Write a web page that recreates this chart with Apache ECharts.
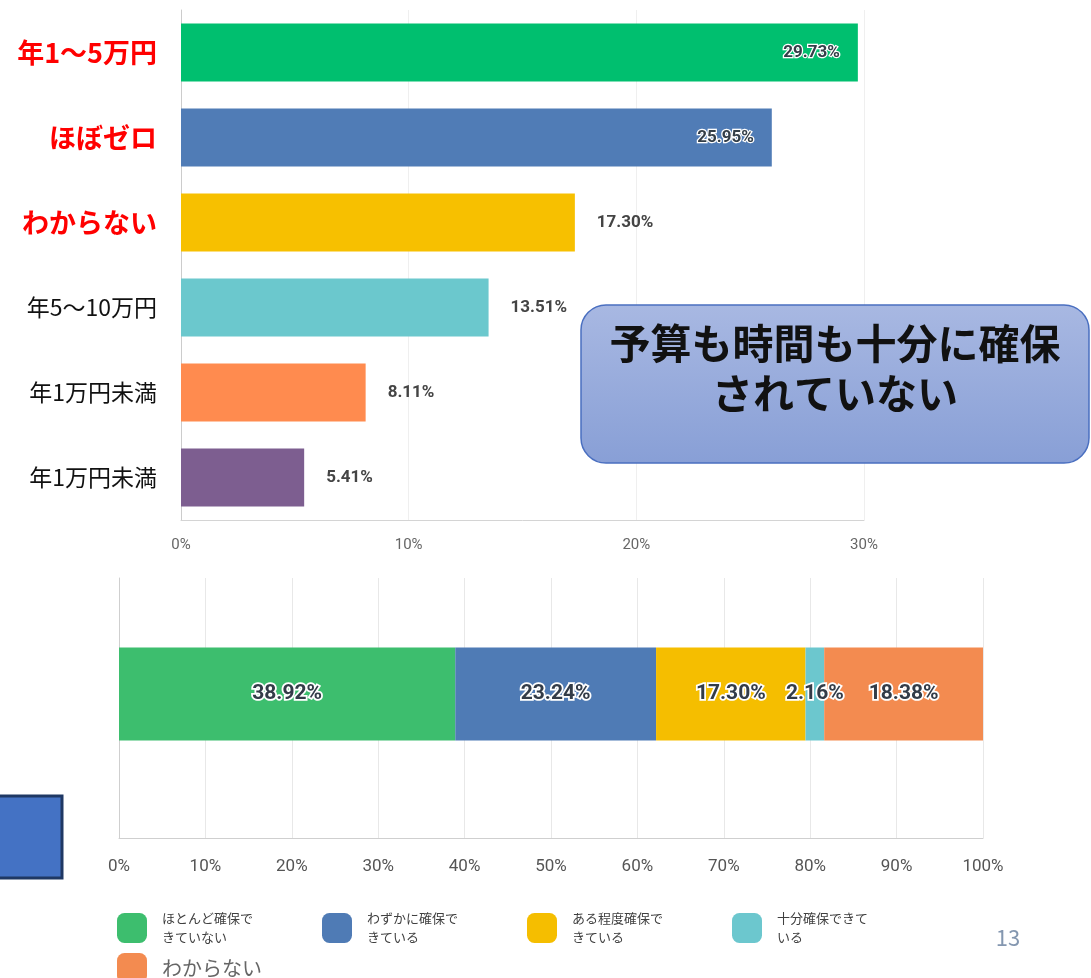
<!DOCTYPE html>
<html>
<head>
<meta charset="utf-8">
<style>
	html,body{margin:0;padding:0;background:#fff}
	#main{width:1091px;height:978px}
</style>
<script src="https://cdn.jsdelivr.net/npm/echarts@6/dist/echarts.min.js"></script>
</head>
<body>
<div id="main"></div>
<script>
// 上のグラフ
var topCats = ['年1〜5万円', 'ほぼゼロ', 'わからない', '年5〜10万円', '年1万円未満', '年1万円未満'];
var topVals = [29.73, 25.95, 17.30, 13.51, 8.11, 5.41];
var topTicks = [0, 10, 20, 30];
// 下のグラフ（積み上げ）
var bottomNames = ['ほとんど確保できていない', 'わずかに確保できている', 'ある程度確保できている', '十分確保できている', 'わからない'];
var bottomVals = [38.92, 23.24, 17.30, 2.16, 18.38];
var bottomTicks = [0, 10, 20, 30, 40, 50, 60, 70, 80, 90, 100];
var calloutText = '予算も時間も十分に確保\nされていない';
var pageNo = '13';

var topColors = ['#00BF6F', '#507CB6', '#F7C000', '#6BC8CD', '#FF8B4F', '#7D5E90'];
var bottomColors = ['#3DBE6E', '#4F7BB5', '#F5BE00', '#6CC7CE', '#F38B50'];
var JP = '"Noto Sans CJK JP", "Noto Sans", sans-serif';
var NUM = 'Roboto, "Noto Sans", sans-serif';

var myChart = echarts.init(document.getElementById('main'));

var topSeriesData = topVals.map(function (v, i) {
	var inside = i < 2;
	return {
		value: v,
		itemStyle: { color: topColors[i] },
		label: inside ? {
			position: 'insideRight', distance: 18, color: '#333E48',
			textBorderColor: '#fff', textBorderWidth: 2.5
		} : {
			position: 'right', distance: 22, color: '#444'
		}
	};
});

var bottomSeries = bottomNames.map(function (name, i) {
	return {
		name: name,
		type: 'bar',
		stack: 'total',
		xAxisIndex: 2,
		yAxisIndex: 2,
		barWidth: 93,
		itemStyle: { color: bottomColors[i] },
		label: {
			show: true, position: 'inside',
			fontFamily: NUM, fontSize: 21, fontWeight: 'bold',
			color: '#333C48', textBorderColor: '#fff', textBorderWidth: 3.5,
			formatter: function (p) { return p.value.toFixed(2) + '%'; }
		},
		data: [bottomVals[i]]
	};
});

var option = {
	animation: false,
	textStyle: { fontFamily: JP },
	grid: [
		{ left: 181, top: 10, width: 683, height: 510 },
		{ left: 119, top: 578, width: 864, height: 260 },
		{ left: 119, top: 578, width: 864, height: 232 }
	],
	xAxis: [
		{
			type: 'value', gridIndex: 0, min: topTicks[0], max: topTicks[topTicks.length - 1], interval: 10,
			axisLine: { show: true, lineStyle: { color: '#D4D4D4' } },
			axisTick: { show: false },
			axisLabel: { margin: 18, color: '#666', fontSize: 15, fontFamily: NUM, formatter: '{value}%' },
			splitLine: { show: true, lineStyle: { color: '#EFEFEF' } }
		},
		{
			type: 'value', gridIndex: 1, min: bottomTicks[0], max: bottomTicks[bottomTicks.length - 1], interval: 10,
			axisLine: { show: true, lineStyle: { color: '#CFCFCF' } },
			axisTick: { show: false },
			axisLabel: { margin: 20, color: '#555', fontSize: 17, fontFamily: NUM, formatter: '{value}%' },
			splitLine: { show: true, lineStyle: { color: '#E8E8E8' } }
		},
		{
			type: 'value', gridIndex: 2, min: 0, max: 100, show: false
		}
	],
	yAxis: [
		{
			type: 'category', gridIndex: 0, inverse: true,
			data: topCats.map(function (c, i) {
				return i < 3
					? { value: c, textStyle: { color: '#FF0000', fontSize: 27, fontWeight: 'bold' } }
					: { value: c, textStyle: { color: '#111', fontSize: 23 } };
			}),
			axisLine: { show: true, lineStyle: { color: '#CCCCCC' } },
			axisTick: { show: false },
			axisLabel: { margin: 24 }
		},
		{
			type: 'category', gridIndex: 1, data: [''],
			axisLine: { show: true, lineStyle: { color: '#CFCFCF' } },
			axisTick: { show: false }, axisLabel: { show: false }
		},
		{
			type: 'category', gridIndex: 2, data: ['回答'], show: false
		}
	],
	legend: {
		left: 112, top: 904, width: 860,
		orient: 'horizontal',
		itemWidth: 30, itemHeight: 30, itemGap: 2,
		icon: 'roundRect',
		selectedMode: false,
		data: bottomNames.map(function (n, i) {
			return i < 4 ? { name: n } : { name: n, textStyle: { fontSize: 20, color: '#666', lineHeight: 24 } };
		}),
		formatter: function (name) {
			return name.length > 7 ? name.slice(0, 7) + '\n' + name.slice(7) : name;
		},
		textStyle: { fontSize: 13, lineHeight: 19, color: '#404040', width: 158, padding: [0, 0, 0, 10] }
	},
	series: [{
		name: 'top',
		type: 'bar',
		xAxisIndex: 0,
		yAxisIndex: 0,
		barWidth: 58,
		label: {
			show: true, fontFamily: NUM, fontSize: 17, fontWeight: 'bold',
			formatter: function (p) { return p.value.toFixed(2) + '%'; }
		},
		data: topSeriesData
	}].concat(bottomSeries),
	graphic: [
		{
			type: 'rect', z: 100,
			shape: { x: 581, y: 305, width: 508, height: 158, r: 25 },
			style: {
				fill: new echarts.graphic.LinearGradient(0, 0, 0, 1, [
					{ offset: 0, color: '#A8B8E2' },
					{ offset: 1, color: '#889FD6' }
				]),
				stroke: '#4A6FC0', lineWidth: 1.5
			}
		},
		{
			type: 'text', z: 101, x: 835, y: 368,
			style: {
				text: calloutText, align: 'center', verticalAlign: 'middle',
				font: 'bold 41px ' + JP, lineHeight: 50, fill: '#111'
			}
		},
		{
			type: 'rect', z: 100,
			shape: { x: -3, y: 796, width: 65, height: 82 },
			style: { fill: '#4472C4', stroke: '#1F3864', lineWidth: 3 }
		},
		{
			type: 'text', z: 100, x: 1008, y: 938,
			style: {
				text: pageNo, align: 'center', verticalAlign: 'middle',
				font: '22px ' + JP, fill: '#8497B0'
			}
		}
	]
};
myChart.setOption(option);
</script>
</body>
</html>
